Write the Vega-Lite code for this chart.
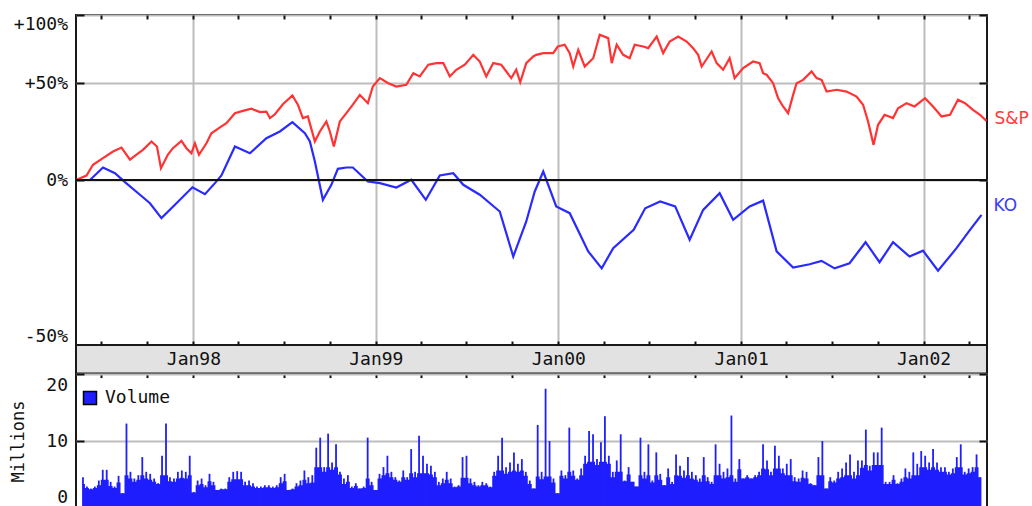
{
"$schema":"https://vega.github.io/schema/vega-lite/v6.json",
"background":"white",
"padding":{"left":8,"top":13,"right":0,"bottom":0},
"spacing":0,
"bounds":"flush",
"config":{
 "view":{"stroke":"#1a1a1a","strokeWidth":2},
 "axis":{"domain":false,"labelFont":"DejaVu Sans Mono","labelFontSize":18,"labelColor":"#111111","titleFont":"DejaVu Sans Mono","titleFontSize":17,"titleFontWeight":"normal","titleColor":"#111111","tickColor":"#111111","tickWidth":2,"gridColor":"#bdbdbd","gridWidth":2,"gridOpacity":1,"labelOverlap":false}
},
"datasets":{
"sp":[
{"date":"1997-05-11","value":1.000},{"date":"1997-06-01","value":1.019},{"date":"1997-06-14","value":1.066},{"date":"1997-07-04","value":1.096},{"date":"1997-07-24","value":1.127},{"date":"1997-08-10","value":1.146},{"date":"1997-08-27","value":1.089},{"date":"1997-09-09","value":1.112},{"date":"1997-09-22","value":1.135},{"date":"1997-10-09","value":1.176},{"date":"1997-10-20","value":1.151},{"date":"1997-10-28","value":1.051},{"date":"1997-11-11","value":1.113},{"date":"1997-11-21","value":1.143},{"date":"1997-12-08","value":1.179},{"date":"1997-12-18","value":1.143},{"date":"1997-12-28","value":1.119},
{"date":"1998-01-04","value":1.167},{"date":"1998-01-12","value":1.112},{"date":"1998-01-27","value":1.167},{"date":"1998-02-06","value":1.217},{"date":"1998-02-23","value":1.247},{"date":"1998-03-08","value":1.270},{"date":"1998-03-25","value":1.324},{"date":"1998-04-10","value":1.337},{"date":"1998-04-27","value":1.349},{"date":"1998-05-14","value":1.330},{"date":"1998-05-27","value":1.333},{"date":"1998-06-03","value":1.297},{"date":"1998-06-13","value":1.318},{"date":"1998-06-29","value":1.375},{"date":"1998-07-18","value":1.426},{"date":"1998-07-29","value":1.372},{"date":"1998-08-08","value":1.297},{"date":"1998-08-18","value":1.306},{"date":"1998-09-01","value":1.176},{"date":"1998-09-11","value":1.226},{"date":"1998-09-24","value":1.279},{"date":"1998-10-01","value":1.226},{"date":"1998-10-09","value":1.151},{"date":"1998-10-21","value":1.279},{"date":"1998-11-03","value":1.324},{"date":"1998-11-16","value":1.372},{"date":"1998-11-30","value":1.430},{"date":"1998-12-16","value":1.381},{"date":"1998-12-26","value":1.481},
{"date":"1999-01-09","value":1.534},{"date":"1999-01-26","value":1.502},{"date":"1999-02-11","value":1.481},{"date":"1999-03-03","value":1.492},{"date":"1999-03-17","value":1.566},{"date":"1999-03-30","value":1.545},{"date":"1999-04-16","value":1.623},{"date":"1999-05-02","value":1.634},{"date":"1999-05-16","value":1.634},{"date":"1999-05-29","value":1.545},{"date":"1999-06-11","value":1.589},{"date":"1999-06-28","value":1.623},{"date":"1999-07-15","value":1.692},{"date":"1999-07-28","value":1.645},{"date":"1999-08-10","value":1.545},{"date":"1999-08-24","value":1.634},{"date":"1999-09-09","value":1.623},{"date":"1999-09-29","value":1.534},{"date":"1999-10-09","value":1.589},{"date":"1999-10-17","value":1.508},{"date":"1999-10-29","value":1.634},{"date":"1999-11-12","value":1.680},{"date":"1999-11-18","value":1.692},{"date":"1999-12-02","value":1.704},{"date":"1999-12-22","value":1.704},{"date":"1999-12-31","value":1.752},
{"date":"2000-01-14","value":1.765},{"date":"2000-01-24","value":1.704},{"date":"2000-01-31","value":1.611},{"date":"2000-02-10","value":1.728},{"date":"2000-02-23","value":1.611},{"date":"2000-03-11","value":1.668},{"date":"2000-03-24","value":1.841},{"date":"2000-04-10","value":1.815},{"date":"2000-04-17","value":1.634},{"date":"2000-04-27","value":1.765},{"date":"2000-05-10","value":1.692},{"date":"2000-05-23","value":1.668},{"date":"2000-06-02","value":1.765},{"date":"2000-06-19","value":1.752},{"date":"2000-06-29","value":1.740},{"date":"2000-07-16","value":1.827},{"date":"2000-07-29","value":1.704},{"date":"2000-08-11","value":1.789},{"date":"2000-08-28","value":1.827},{"date":"2000-09-14","value":1.789},{"date":"2000-09-27","value":1.740},{"date":"2000-10-07","value":1.692},{"date":"2000-10-14","value":1.611},{"date":"2000-11-03","value":1.716},{"date":"2000-11-13","value":1.634},{"date":"2000-11-26","value":1.589},{"date":"2000-12-09","value":1.668},{"date":"2000-12-19","value":1.534},
{"date":"2001-01-05","value":1.600},{"date":"2001-01-25","value":1.645},{"date":"2001-02-07","value":1.634},{"date":"2001-02-14","value":1.566},{"date":"2001-02-21","value":1.556},{"date":"2001-03-06","value":1.502},{"date":"2001-03-16","value":1.410},{"date":"2001-03-26","value":1.362},{"date":"2001-04-05","value":1.324},{"date":"2001-04-15","value":1.430},{"date":"2001-04-22","value":1.502},{"date":"2001-05-05","value":1.523},{"date":"2001-05-22","value":1.578},{"date":"2001-06-01","value":1.534},{"date":"2001-06-11","value":1.523},{"date":"2001-06-21","value":1.450},{"date":"2001-07-11","value":1.461},{"date":"2001-07-31","value":1.450},{"date":"2001-08-20","value":1.420},{"date":"2001-09-02","value":1.372},{"date":"2001-09-12","value":1.279},{"date":"2001-09-23","value":1.159},{"date":"2001-10-02","value":1.261},{"date":"2001-10-15","value":1.315},{"date":"2001-11-01","value":1.297},{"date":"2001-11-11","value":1.352},{"date":"2001-11-28","value":1.381},{"date":"2001-12-14","value":1.362},
{"date":"2002-01-04","value":1.410},{"date":"2002-01-20","value":1.362},{"date":"2002-02-06","value":1.306},{"date":"2002-02-23","value":1.315},{"date":"2002-03-11","value":1.401},{"date":"2002-03-25","value":1.381},{"date":"2002-04-10","value":1.343},{"date":"2002-04-24","value":1.315},{"date":"2002-05-07","value":1.282}
],
"ko":[
{"date":"1997-05-11","value":1.000},{"date":"1997-06-08","value":1.000},{"date":"1997-07-04","value":1.054},{"date":"1997-07-28","value":1.029},{"date":"1997-08-17","value":0.991},{"date":"1997-09-16","value":0.940},{"date":"1997-10-06","value":0.907},{"date":"1997-10-29","value":0.852},{"date":"1997-11-28","value":0.907},{"date":"1997-12-30","value":0.970},
{"date":"1998-01-24","value":0.942},{"date":"1998-02-13","value":0.987},{"date":"1998-02-26","value":1.019},{"date":"1998-03-25","value":1.151},{"date":"1998-04-24","value":1.119},{"date":"1998-05-27","value":1.192},{"date":"1998-06-23","value":1.226},{"date":"1998-07-18","value":1.275},{"date":"1998-08-12","value":1.217},{"date":"1998-08-22","value":1.176},{"date":"1998-09-01","value":1.081},{"date":"1998-09-17","value":0.920},{"date":"1998-10-04","value":0.980},{"date":"1998-10-17","value":1.048},{"date":"1998-11-03","value":1.054},{"date":"1998-11-16","value":1.054},{"date":"1998-12-16","value":0.994},
{"date":"1999-01-09","value":0.987},{"date":"1999-02-11","value":0.969},{"date":"1999-03-13","value":1.001},{"date":"1999-04-11","value":0.920},{"date":"1999-05-09","value":1.019},{"date":"1999-06-05","value":1.029},{"date":"1999-06-25","value":0.980},{"date":"1999-07-28","value":0.940},{"date":"1999-09-06","value":0.876},{"date":"1999-10-03","value":0.725},{"date":"1999-10-29","value":0.840},{"date":"1999-11-15","value":0.953},{"date":"1999-12-02","value":1.036},{"date":"1999-12-28","value":0.895},
{"date":"2000-01-24","value":0.870},{"date":"2000-03-01","value":0.741},{"date":"2000-03-28","value":0.690},{"date":"2000-04-20","value":0.751},{"date":"2000-05-31","value":0.811},{"date":"2000-06-23","value":0.888},{"date":"2000-07-23","value":0.914},{"date":"2000-08-22","value":0.895},{"date":"2000-09-20","value":0.778},{"date":"2000-10-17","value":0.882},{"date":"2000-11-19","value":0.946},{"date":"2000-12-16","value":0.846},
{"date":"2001-01-18","value":0.895},{"date":"2001-02-14","value":0.917},{"date":"2001-03-13","value":0.741},{"date":"2001-04-15","value":0.692},{"date":"2001-05-18","value":0.702},{"date":"2001-06-11","value":0.712},{"date":"2001-07-07","value":0.690},{"date":"2001-08-06","value":0.705},{"date":"2001-09-07","value":0.770},{"date":"2001-10-05","value":0.708},{"date":"2001-11-01","value":0.770},{"date":"2001-12-04","value":0.725},{"date":"2001-12-31","value":0.743},
{"date":"2002-01-30","value":0.683},{"date":"2002-03-08","value":0.751},{"date":"2002-04-04","value":0.811},{"date":"2002-04-27","value":0.864}
],
"vol":[
{"date":"1997-05-15","base":3.6,"high":4.6},{"date":"1997-05-23","base":3.0,"high":3.2},{"date":"1997-05-31","base":2.8,"high":2.9},{"date":"1997-06-08","base":3.0,"high":3.2},{"date":"1997-06-16","base":3.4,"high":4.1},{"date":"1997-06-24","base":4.2,"high":5.7},{"date":"1997-07-02","base":4.2,"high":5.7},{"date":"1997-07-10","base":3.3,"high":3.9},{"date":"1997-07-18","base":3.0,"high":3.2},{"date":"1997-07-26","base":3.8,"high":4.8},{"date":"1997-08-03","base":2.2,"high":2.2},{"date":"1997-08-11","base":4.9,"high":12.6},{"date":"1997-08-19","base":4.4,"high":5.4},{"date":"1997-08-27","base":3.9,"high":4.4},{"date":"1997-09-04","base":4.2,"high":4.9},{"date":"1997-09-12","base":4.9,"high":7.6},{"date":"1997-09-20","base":4.4,"high":5.4},{"date":"1997-09-28","base":4.2,"high":5.1},{"date":"1997-10-06","base":3.9,"high":4.4},{"date":"1997-10-14","base":3.6,"high":3.7},{"date":"1997-10-22","base":4.9,"high":7.8},{"date":"1997-10-30","base":4.9,"high":12.6},{"date":"1997-11-07","base":4.0,"high":4.6},{"date":"1997-11-15","base":3.9,"high":4.4},{"date":"1997-11-23","base":4.4,"high":5.4},{"date":"1997-12-01","base":4.5,"high":5.6},{"date":"1997-12-09","base":4.4,"high":5.4},{"date":"1997-12-17","base":4.9,"high":7.8},{"date":"1997-12-25","base":2.3,"high":2.4},
{"date":"1998-01-02","base":3.4,"high":4.1},{"date":"1998-01-10","base":3.6,"high":4.4},{"date":"1998-01-18","base":3.1,"high":3.4},{"date":"1998-01-26","base":4.0,"high":5.1},{"date":"1998-02-03","base":3.4,"high":3.9},{"date":"1998-02-11","base":2.7,"high":2.7},{"date":"1998-02-19","base":2.8,"high":2.9},{"date":"1998-02-27","base":2.8,"high":2.9},{"date":"1998-03-07","base":3.9,"high":4.6},{"date":"1998-03-15","base":4.3,"high":5.4},{"date":"1998-03-23","base":4.3,"high":5.5},{"date":"1998-03-31","base":4.3,"high":5.4},{"date":"1998-04-08","base":3.4,"high":3.9},{"date":"1998-04-16","base":3.4,"high":4.1},{"date":"1998-04-24","base":3.2,"high":3.7},{"date":"1998-05-02","base":3.0,"high":3.2},{"date":"1998-05-10","base":3.0,"high":3.2},{"date":"1998-05-18","base":3.1,"high":3.4},{"date":"1998-05-26","base":3.1,"high":3.4},{"date":"1998-06-03","base":3.0,"high":3.2},{"date":"1998-06-11","base":3.1,"high":3.4},{"date":"1998-06-19","base":3.7,"high":4.6},{"date":"1998-06-27","base":4.0,"high":5.1},{"date":"1998-07-05","base":2.7,"high":2.7},{"date":"1998-07-13","base":2.8,"high":2.9},{"date":"1998-07-21","base":3.2,"high":3.7},{"date":"1998-07-29","base":3.4,"high":4.1},{"date":"1998-08-06","base":4.2,"high":5.6},{"date":"1998-08-14","base":3.7,"high":4.6},{"date":"1998-08-22","base":3.8,"high":4.9},{"date":"1998-08-30","base":6.1,"high":9.0},{"date":"1998-09-07","base":6.1,"high":10.5},{"date":"1998-09-15","base":5.4,"high":6.1},{"date":"1998-09-23","base":6.1,"high":11.1},{"date":"1998-10-01","base":5.7,"high":6.8},{"date":"1998-10-09","base":6.1,"high":9.5},{"date":"1998-10-17","base":5.0,"high":5.4},{"date":"1998-10-25","base":3.6,"high":4.4},{"date":"1998-11-02","base":3.9,"high":4.9},{"date":"1998-11-10","base":3.0,"high":3.2},{"date":"1998-11-18","base":3.3,"high":3.7},{"date":"1998-11-26","base":2.9,"high":2.9},{"date":"1998-12-04","base":3.0,"high":3.2},{"date":"1998-12-12","base":4.4,"high":10.5},{"date":"1998-12-20","base":3.4,"high":3.9},{"date":"1998-12-28","base":2.7,"high":2.7},
{"date":"1999-01-05","base":4.4,"high":5.1},{"date":"1999-01-13","base":4.9,"high":6.1},{"date":"1999-01-21","base":5.2,"high":7.8},{"date":"1999-01-29","base":4.6,"high":5.4},{"date":"1999-02-06","base":4.2,"high":4.6},{"date":"1999-02-14","base":3.9,"high":4.1},{"date":"1999-02-22","base":4.6,"high":5.6},{"date":"1999-03-02","base":4.2,"high":4.6},{"date":"1999-03-10","base":5.2,"high":8.8},{"date":"1999-03-18","base":4.6,"high":5.4},{"date":"1999-03-26","base":5.2,"high":10.8},{"date":"1999-04-03","base":5.2,"high":7.8},{"date":"1999-04-11","base":5.2,"high":6.6},{"date":"1999-04-19","base":5.0,"high":6.3},{"date":"1999-04-27","base":4.6,"high":5.4},{"date":"1999-05-05","base":3.4,"high":3.9},{"date":"1999-05-13","base":3.7,"high":4.4},{"date":"1999-05-21","base":4.2,"high":5.4},{"date":"1999-05-29","base":3.7,"high":4.4},{"date":"1999-06-06","base":3.1,"high":3.2},{"date":"1999-06-14","base":3.2,"high":3.4},{"date":"1999-06-22","base":4.5,"high":7.6},{"date":"1999-06-30","base":4.5,"high":7.8},{"date":"1999-07-08","base":3.7,"high":4.4},{"date":"1999-07-16","base":3.4,"high":3.9},{"date":"1999-07-24","base":3.2,"high":3.4},{"date":"1999-08-01","base":3.4,"high":3.9},{"date":"1999-08-09","base":3.4,"high":3.7},{"date":"1999-08-17","base":3.1,"high":3.2},{"date":"1999-08-25","base":4.8,"high":5.4},{"date":"1999-09-02","base":5.6,"high":7.8},{"date":"1999-09-10","base":5.6,"high":10.5},{"date":"1999-09-18","base":5.1,"high":6.1},{"date":"1999-09-26","base":5.4,"high":6.8},{"date":"1999-10-04","base":5.6,"high":8.3},{"date":"1999-10-12","base":5.4,"high":6.6},{"date":"1999-10-20","base":5.6,"high":7.3},{"date":"1999-10-28","base":4.8,"high":5.4},{"date":"1999-11-05","base":3.6,"high":4.1},{"date":"1999-11-13","base":2.9,"high":2.9},{"date":"1999-11-21","base":4.7,"high":12.4},{"date":"1999-11-29","base":4.3,"high":5.4},{"date":"1999-12-07","base":4.7,"high":17.8},{"date":"1999-12-15","base":4.7,"high":10.0},{"date":"1999-12-23","base":3.8,"high":4.4},{"date":"1999-12-31","base":2.2,"high":2.2},
{"date":"2000-01-08","base":4.8,"high":5.6},{"date":"2000-01-16","base":4.4,"high":4.9},{"date":"2000-01-24","base":5.4,"high":12.0},{"date":"2000-02-01","base":4.8,"high":5.6},{"date":"2000-02-09","base":4.2,"high":4.4},{"date":"2000-02-17","base":4.9,"high":5.9},{"date":"2000-02-25","base":6.6,"high":7.8},{"date":"2000-03-04","base":6.9,"high":11.5},{"date":"2000-03-12","base":6.9,"high":11.0},{"date":"2000-03-20","base":6.4,"high":7.3},{"date":"2000-03-28","base":6.9,"high":9.8},{"date":"2000-04-05","base":6.9,"high":13.7},{"date":"2000-04-13","base":6.6,"high":7.8},{"date":"2000-04-21","base":4.6,"high":5.4},{"date":"2000-04-29","base":5.4,"high":7.1},{"date":"2000-05-07","base":5.4,"high":11.0},{"date":"2000-05-15","base":4.0,"high":4.1},{"date":"2000-05-23","base":5.0,"high":6.1},{"date":"2000-05-31","base":3.9,"high":3.9},{"date":"2000-06-08","base":3.2,"high":3.2},{"date":"2000-06-16","base":4.9,"high":10.5},{"date":"2000-06-24","base":4.4,"high":5.4},{"date":"2000-07-02","base":4.9,"high":9.5},{"date":"2000-07-10","base":3.8,"high":4.1},{"date":"2000-07-18","base":4.9,"high":8.3},{"date":"2000-07-26","base":4.2,"high":5.1},{"date":"2000-08-03","base":3.4,"high":3.4},{"date":"2000-08-11","base":4.6,"high":5.9},{"date":"2000-08-19","base":3.6,"high":3.9},{"date":"2000-08-27","base":4.9,"high":8.0},{"date":"2000-09-04","base":4.8,"high":6.3},{"date":"2000-09-12","base":4.5,"high":5.6},{"date":"2000-09-20","base":4.9,"high":7.6},{"date":"2000-09-28","base":4.4,"high":5.4},{"date":"2000-10-06","base":4.2,"high":4.9},{"date":"2000-10-14","base":3.9,"high":4.4},{"date":"2000-10-22","base":4.9,"high":7.6},{"date":"2000-10-30","base":4.0,"high":4.6},{"date":"2000-11-07","base":3.6,"high":3.9},{"date":"2000-11-15","base":4.9,"high":9.5},{"date":"2000-11-23","base":4.9,"high":6.6},{"date":"2000-12-01","base":4.4,"high":5.4},{"date":"2000-12-09","base":4.6,"high":5.9},{"date":"2000-12-17","base":4.9,"high":13.8},{"date":"2000-12-25","base":3.9,"high":4.4},
{"date":"2001-01-02","base":5.8,"high":7.3},{"date":"2001-01-10","base":4.4,"high":4.4},{"date":"2001-01-18","base":4.6,"high":4.9},{"date":"2001-01-26","base":4.4,"high":4.4},{"date":"2001-02-03","base":4.6,"high":4.9},{"date":"2001-02-11","base":4.9,"high":5.4},{"date":"2001-02-19","base":5.9,"high":9.5},{"date":"2001-02-27","base":5.8,"high":7.1},{"date":"2001-03-07","base":4.9,"high":5.4},{"date":"2001-03-15","base":5.9,"high":9.3},{"date":"2001-03-23","base":5.9,"high":7.8},{"date":"2001-03-31","base":5.2,"high":5.9},{"date":"2001-04-08","base":4.9,"high":6.6},{"date":"2001-04-16","base":4.9,"high":7.3},{"date":"2001-04-24","base":4.0,"high":4.6},{"date":"2001-05-02","base":3.9,"high":4.4},{"date":"2001-05-10","base":4.5,"high":5.6},{"date":"2001-05-18","base":4.4,"high":5.4},{"date":"2001-05-26","base":3.6,"high":3.7},{"date":"2001-06-03","base":3.4,"high":3.4},{"date":"2001-06-11","base":4.9,"high":7.6},{"date":"2001-06-19","base":4.9,"high":10.0},{"date":"2001-06-27","base":2.9,"high":2.9},{"date":"2001-07-05","base":4.0,"high":4.6},{"date":"2001-07-13","base":3.8,"high":4.1},{"date":"2001-07-21","base":4.4,"high":5.4},{"date":"2001-07-29","base":4.6,"high":5.9},{"date":"2001-08-06","base":4.9,"high":6.8},{"date":"2001-08-14","base":4.9,"high":8.0},{"date":"2001-08-22","base":4.4,"high":5.4},{"date":"2001-08-30","base":4.9,"high":7.1},{"date":"2001-09-07","base":6.0,"high":7.1},{"date":"2001-09-15","base":6.4,"high":11.7},{"date":"2001-09-23","base":5.6,"high":6.3},{"date":"2001-10-01","base":6.4,"high":8.3},{"date":"2001-10-09","base":6.4,"high":8.3},{"date":"2001-10-17","base":6.4,"high":12.0},{"date":"2001-10-25","base":3.6,"high":3.9},{"date":"2001-11-02","base":3.6,"high":3.9},{"date":"2001-11-10","base":4.2,"high":4.9},{"date":"2001-11-18","base":3.6,"high":3.7},{"date":"2001-11-26","base":3.9,"high":4.4},{"date":"2001-12-04","base":4.6,"high":5.9},{"date":"2001-12-12","base":4.4,"high":5.4},{"date":"2001-12-20","base":4.9,"high":8.3},{"date":"2001-12-28","base":4.9,"high":6.6},
{"date":"2002-01-05","base":6.1,"high":8.5},{"date":"2002-01-13","base":6.1,"high":7.8},{"date":"2002-01-21","base":5.7,"high":6.8},{"date":"2002-01-29","base":6.1,"high":8.8},{"date":"2002-02-06","base":5.7,"high":6.8},{"date":"2002-02-14","base":5.4,"high":6.1},{"date":"2002-02-22","base":5.4,"high":6.1},{"date":"2002-03-02","base":5.0,"high":5.4},{"date":"2002-03-10","base":5.2,"high":5.9},{"date":"2002-03-18","base":6.1,"high":7.6},{"date":"2002-03-26","base":6.1,"high":9.5},{"date":"2002-04-03","base":5.0,"high":5.4},{"date":"2002-04-11","base":5.2,"high":5.9},{"date":"2002-04-19","base":5.4,"high":6.1},{"date":"2002-04-27","base":6.1,"high":8.0},{"date":"2002-05-05","base":4.6,"high":4.6}
]
},
"vconcat":[
{
 "width":911,"height":330,
 "layer":[
  {"data":{"name":"sp"},"mark":{"type":"line","color":"#ff3333","strokeWidth":2.2},
   "encoding":{
    "x":{"field":"date","type":"temporal","scale":{"type":"utc","domain":[{"year":1997,"month":5,"date":11,"utc":true},{"year":2002,"month":5,"date":8,"utc":true}]},
         "axis":{"orient":"top","tickCount":{"interval":"month","step":3},"labels":false,"grid":false,"tickSize":-4,"title":null}},
    "y":{"field":"value","type":"quantitative","scale":{"type":"log","domain":[0.5,2],"nice":false},
         "axis":{"orient":"left","values":[0.5,1,1.5,2],"labelExpr":"datum.value==2?'+100%':datum.value==1.5?'+50%':datum.value==1?'0%':'-50%'","tickSize":-8,"labelPadding":16.5,"labelFlush":true,"grid":true,"title":null}}
   }},
  {"data":{"name":"ko"},"mark":{"type":"line","color":"#2a2aff","strokeWidth":2.2},
   "encoding":{
    "x":{"field":"date","type":"temporal","axis":{"orient":"bottom","tickCount":{"interval":"year"},"ticks":false,"labels":false,"grid":true,"title":null}},
    "y":{"field":"value","type":"quantitative","axis":{"orient":"right","values":[0.5,1,1.5,2],"labels":false,"tickSize":-8,"grid":false,"title":null}}
   }},
  {"data":{"values":[{"level":1}]},"mark":{"type":"rule","color":"#111111","strokeWidth":2},
   "encoding":{"y":{"field":"level","type":"quantitative","axis":null}}},
  {"data":{"name":"sp"},
   "transform":[{"window":[{"op":"rank","as":"rk"}],"sort":[{"field":"date","order":"descending"}]},{"filter":"datum.rk == 1"}],
   "mark":{"type":"text","text":"S&P","align":"left","baseline":"middle","dx":8,"dy":-2,"font":"DejaVu Sans","fontSize":17,"color":"#ff3b3b"},
   "encoding":{"x":{"field":"date","type":"temporal","axis":null},"y":{"field":"value","type":"quantitative","axis":null}}},
  {"data":{"name":"ko"},
   "transform":[{"window":[{"op":"rank","as":"rk"}],"sort":[{"field":"date","order":"descending"}]},{"filter":"datum.rk == 1"}],
   "mark":{"type":"text","text":"KO","align":"left","baseline":"middle","dx":12,"dy":-9,"font":"DejaVu Sans","fontSize":17,"color":"#3b3bff"},
   "encoding":{"x":{"field":"date","type":"temporal","axis":null},"y":{"field":"value","type":"quantitative","axis":null}}}
 ],
 "resolve":{"axis":{"x":"independent","y":"independent"}}
},
{
 "width":911,"height":28.6,
 "view":{"fill":"#e2e2e2","stroke":"#1a1a1a","strokeWidth":2},
 "layer":[
  {"data":{"name":"ko"},"mark":{"type":"point","opacity":0},
   "encoding":{"x":{"field":"date","type":"temporal","scale":{"type":"utc","domain":[{"year":1997,"month":5,"date":11,"utc":true},{"year":2002,"month":5,"date":8,"utc":true}]},
     "axis":{"orient":"top","tickCount":{"interval":"month","step":3},"labels":false,"grid":false,"tickSize":4,"title":null}},
     "y":{"field":"value","type":"quantitative","axis":null}}},
  {"data":{"name":"ko"},"mark":{"type":"point","opacity":0},
   "encoding":{"x":{"field":"date","type":"temporal",
     "axis":{"orient":"bottom","tickCount":{"interval":"month","step":3},"grid":false,"tickSize":4,"labelPadding":-18.3,"labelBaseline":"middle","labelExpr":"utcmonth(datum.value)==0?utcFormat(datum.value,'%b%y'):''","labelBound":false,"labelFlush":false,"title":null}},
     "y":{"field":"value","type":"quantitative","axis":null}}}
 ],
 "resolve":{"axis":{"x":"independent"}}
},
{
 "width":911,"height":134,
 "layer":[
  {"data":{"name":"vol"},"mark":{"type":"area","interpolate":"step","color":"#1e1eff"},
   "encoding":{
    "x":{"field":"date","type":"temporal","scale":{"type":"utc","domain":[{"year":1997,"month":5,"date":11,"utc":true},{"year":2002,"month":5,"date":8,"utc":true}]},
         "axis":{"orient":"bottom","tickCount":{"interval":"year"},"ticks":false,"labels":false,"grid":true,"title":null}},
    "y":{"field":"base","type":"quantitative","scale":{"domain":[0,20],"nice":false},
         "axis":{"orient":"left","values":[0,10,20],"tickSize":-8,"labelPadding":16.5,"labelFlush":true,"labelFlushOffset":-2,"grid":true,"title":"Millions","titlePadding":18}}
   }},
  {"data":{"name":"vol"},"mark":{"type":"bar","width":1.8},
   "encoding":{
    "x":{"field":"date","type":"temporal","axis":null},
    "y":{"field":"high","type":"quantitative","axis":{"orient":"right","values":[0,10,20],"labels":false,"tickSize":-8,"grid":false,"title":null}},
    "color":{"datum":"Volume","type":"nominal","scale":{"range":["#1e1eff"]},
         "legend":{"orient":"none","legendX":5,"legendY":374,"title":null,"symbolType":"square","symbolSize":169,"labelFont":"DejaVu Sans Mono","labelFontSize":18,"labelColor":"#111111","padding":0,"labelOffset":6,"symbolStrokeColor":"#000000","symbolStrokeWidth":1.5,"symbolOpacity":1,
           "encode":{"symbols":{"update":{"stroke":{"value":"#000000"},"strokeWidth":{"value":1.5}}}}}}
   }}
 ],
 "resolve":{"axis":{"y":"independent"}}
}
]
}
